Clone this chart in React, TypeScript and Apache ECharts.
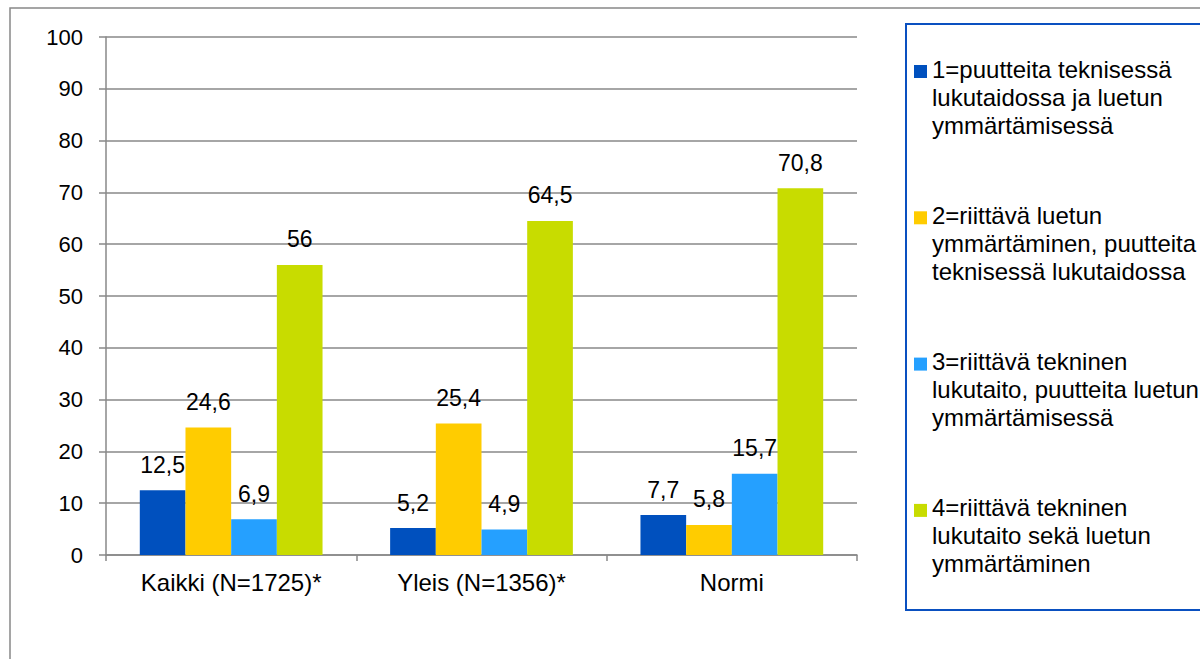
import React, { useEffect, useRef } from "react";
import * as echarts from "echarts";

const categories = ["Kaikki (N=1725)*", "Yleis (N=1356)*", "Normi"];
const seriesNames = [
  "1=puutteita teknisessä\nlukutaidossa ja luetun\nymmärtämisessä",
  "2=riittävä luetun\nymmärtäminen, puutteita\nteknisessä lukutaidossa",
  "3=riittävä tekninen\nlukutaito, puutteita luetun\nymmärtämisessä",
  "4=riittävä tekninen\nlukutaito sekä luetun\nymmärtäminen",
];
const s1 = [12.5, 5.2, 7.7];
const s2 = [24.6, 25.4, 5.8];
const s3 = [6.9, 4.9, 15.7];
const s4 = [56, 64.5, 70.8];
const seriesValues = [s1, s2, s3, s4];
const colors = ["#0050BE", "#FFCC00", "#25A0FF", "#C8DC00"];
const yTicks = [0, 10, 20, 30, 40, 50, 60, 70, 80, 90, 100];

const FONT = "'Liberation Sans', Arial, sans-serif";

export default function App() {
  const ref = useRef<HTMLDivElement>(null);
  useEffect(() => {
    if (!ref.current) return;
    const chart = echarts.init(ref.current, null, { renderer: "svg" });
    const legendGraphics: any[] = [];
    seriesNames.forEach((name, i) => {
      const cy = 71 + i * 146.3;
      legendGraphics.push({
        type: "rect",
        shape: { x: 914, y: cy - 6, width: 13, height: 13 },
        style: { fill: colors[i] },
      });
      legendGraphics.push({
        type: "text",
        x: 932,
        y: cy - 16,
        style: {
          text: name,
          fontSize: 24,
          lineHeight: 28,
          fontFamily: FONT,
          fill: "#000",
          verticalAlign: "top",
        },
      });
    });
    chart.setOption({
      animation: false,
      backgroundColor: "#fff",
      textStyle: { fontFamily: FONT },
      grid: { left: 106, right: 343, top: 37, bottom: 104, containLabel: false },
      xAxis: {
        type: "category",
        data: categories,
        axisLine: { lineStyle: { color: "#888", width: 1.5 } },
        axisTick: { show: true, length: 6, lineStyle: { color: "#888", width: 1.5 } },
        axisLabel: { fontSize: 24, color: "#000", margin: 15, fontFamily: FONT },
      },
      yAxis: {
        type: "value",
        min: 0,
        max: yTicks[yTicks.length - 1],
        interval: 10,
        axisLine: { show: true, lineStyle: { color: "#888", width: 1.5 } },
        axisTick: { show: true, length: 7, lineStyle: { color: "#888", width: 1.5 } },
        axisLabel: { fontSize: 22, color: "#000", margin: 23, fontFamily: FONT },
        splitLine: { lineStyle: { color: "#888", width: 1.5 } },
      },
      series: seriesValues.map((vals, i) => ({
        type: "bar",
        name: seriesNames[i],
        data: vals,
        barGap: "0%",
        barCategoryGap: "27%",
        itemStyle: { color: colors[i] },
        label: {
          show: true,
          position: "top",
          distance: 14,
          fontSize: 23,
          color: "#000",
          fontFamily: FONT,
          formatter: (p: any) => String(p.value).replace(".", ","),
        },
      })),
      graphic: [
        {
          type: "rect",
          shape: { x: 10, y: 8, width: 1250, height: 720 },
          style: { fill: "none", stroke: "#888", lineWidth: 1.5 },
          silent: true,
        },
        {
          type: "rect",
          shape: { x: 906, y: 24, width: 320, height: 586 },
          style: { fill: "none", stroke: "#0A50C0", lineWidth: 2 },
          silent: true,
        },
        ...legendGraphics,
      ],
    });
    return () => chart.dispose();
  }, []);
  return (
    <div
      ref={ref}
      style={{ position: "absolute", left: 0, top: 0, width: 1200, height: 659 }}
    />
  );
}
